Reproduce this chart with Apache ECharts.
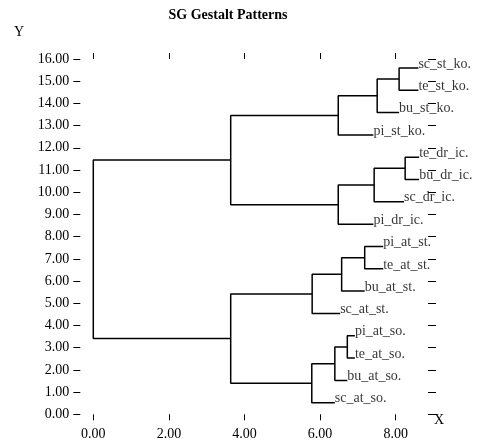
<!DOCTYPE html>
<html>
<head>
<meta charset="utf-8">
<script src="https://cdn.jsdelivr.net/npm/echarts@6/dist/echarts.min.js"></script>
<style>html,body{margin:0;padding:0;background:#fff}#c{width:478px;height:445px}</style>
</head>
<body>
<div id="c"></div>
<script>
// Leaves, listed bottom to top
const leafNames = ['sc_at_so.','bu_at_so.','te_at_so.','pi_at_so.','sc_at_st.','bu_at_st.','te_at_st.','pi_at_st.',
  'pi_dr_ic.','sc_dr_ic.','bu_dr_ic.','te_dr_ic.','pi_st_ko.','bu_st_ko.','te_st_ko.','sc_st_ko.'];
const leafY = [0.52,1.52,2.53,3.54,4.54,5.55,6.55,7.56,8.56,9.57,10.57,11.58,12.58,13.59,14.59,15.60];
const leafX = [6.39,6.72,6.92,6.92,6.53,7.18,7.67,7.67,7.41,8.22,8.62,8.62,7.41,8.09,8.60,8.60];
// Merges: [childA, childB] (node ids: leaves 0..15, merges 16..) and merge heights
const mergeChildren = [[2,3],[1,16],[0,17],[6,7],[5,19],[4,20],[10,11],[9,22],[8,23],[14,15],[13,25],[12,26],[18,21],[24,27],[28,29]];
const mergeX = [6.72,6.39,5.78,7.18,6.57,5.79,8.25,7.43,6.48,8.09,7.51,6.48,3.635,3.635,0];
const xTicks = [0,2,4,6,8];
const yTicks = [0,1,2,3,4,5,6,7,8,9,10,11,12,13,14,15,16];

const nodeX = leafX.slice(), nodeY = leafY.slice();
const series = [];
mergeChildren.forEach(function (ch, i) {
  const a = ch[0], b = ch[1], mx = mergeX[i];
  const ya = nodeY[a], yb = nodeY[b];
  series.push({
    type: 'line', xAxisIndex: 0, yAxisIndex: 0, symbol: 'none', silent: true,
    lineStyle: { color: '#000', width: 1.5 },
    data: [[nodeX[a], ya], [mx, ya], [mx, yb], [nodeX[b], yb]]
  });
  nodeX.push(mx); nodeY.push((ya + yb) / 2);
});
series.push({
  type: 'scatter', xAxisIndex: 0, yAxisIndex: 0, symbolSize: 0, silent: true,
  data: leafNames.map(function (n, i) { return { value: [leafX[i], leafY[i]], name: n }; }),
  label: { show: true, position: 'right', distance: 0, offset: [0, -4], formatter: '{b}',
    color: '#000', fontFamily: 'Liberation Serif', fontSize: 14 }
});

const font = 'Liberation Serif';
const noLine = { show: false, onZero: false };
const chart = echarts.init(document.getElementById('c'), null, { renderer: 'canvas' });
chart.setOption({
  animation: false,
  backgroundColor: '#fff',
  grid: { left: 93.3, right: 44.5, top: 59, bottom: 30.7, containLabel: false },
  xAxis: [
    { type: 'value', position: 'bottom', min: 0, max: 9, interval: 2,
      axisLine: noLine, splitLine: { show: false },
      axisTick: { show: true, length: 6, customValues: xTicks, lineStyle: { color: '#000', width: 1 } },
      axisLabel: { show: true, customValues: xTicks, margin: 13, color: '#000', fontFamily: font, fontSize: 14,
        formatter: function (v) { return v.toFixed(2); } } },
    { type: 'value', position: 'top', min: 0, max: 9, interval: 2,
      axisLine: noLine, splitLine: { show: false },
      axisTick: { show: true, length: 6, customValues: xTicks, lineStyle: { color: '#000', width: 1 } },
      axisLabel: { show: false } }
  ],
  yAxis: [
    { type: 'value', position: 'left', min: 0, max: 16, interval: 1, offset: 13,
      axisLine: noLine, splitLine: { show: false },
      axisTick: { show: true, length: 7, customValues: yTicks, lineStyle: { color: '#000', width: 1 } },
      axisLabel: { show: true, customValues: yTicks, margin: 11, color: '#000', fontFamily: font, fontSize: 14,
        formatter: function (v) { return v.toFixed(2); } } },
    { type: 'value', position: 'right', min: 0, max: 16, interval: 1, offset: -5.5,
      axisLine: noLine, splitLine: { show: false },
      axisTick: { show: true, length: 8, customValues: yTicks, lineStyle: { color: '#000', width: 1 } },
      axisLabel: { show: false } }
  ],
  graphic: [
    { type: 'text', x: 228, y: 15, style: { text: 'SG Gestalt Patterns', fill: '#000', font: 'bold 14px "Liberation Serif"', align: 'center', verticalAlign: 'middle' } },
    { type: 'text', x: 19, y: 32, style: { text: 'Y', fill: '#000', font: '14px "Liberation Serif"', align: 'center', verticalAlign: 'middle' } },
    { type: 'text', x: 439, y: 420, style: { text: 'X', fill: '#000', font: '14px "Liberation Serif"', align: 'center', verticalAlign: 'middle' } }
  ],
  series: series
});
</script>
</body>
</html>
